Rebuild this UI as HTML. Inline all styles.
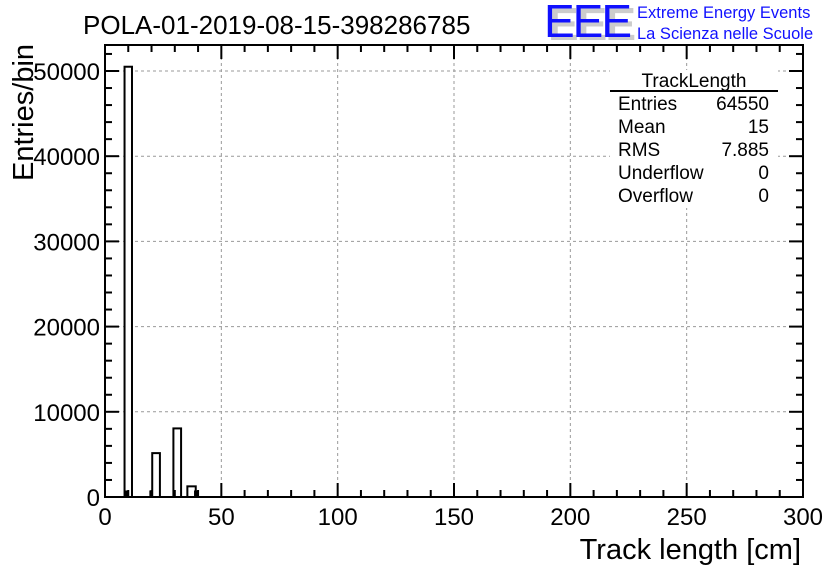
<!DOCTYPE html>
<html><head><meta charset="utf-8"><style>
body{margin:0;background:#fff}
svg{display:block;font-family:"Liberation Sans",Arial,sans-serif}
</style></head><body>
<svg id="chart" width="836" height="572" viewBox="0 0 836 572" xmlns="http://www.w3.org/2000/svg">
<rect width="836" height="572" fill="#fff"/>
<text x="83" y="34" font-size="26">POLA-01-2019-08-15-398286785</text>
<g>
<text x="548" y="40" font-size="46" fill="#ccc" font-weight="bold" letter-spacing="-2">EEE</text>
<text x="544" y="37" font-size="46" fill="#1010ff" letter-spacing="-2">EEE</text>
<text x="637" y="18" font-size="16.5" fill="#1010ff">Extreme Energy Events</text>
<text x="637" y="39" font-size="16.5" fill="#1010ff">La Scienza nelle Scuole</text>
</g>
<g id="grid"></g>
<g id="bars"></g>
<g id="axes"></g>
<g font-size="19">
<rect x="610" y="70" width="168" height="138" fill="#fff"/>
<text x="694" y="87" text-anchor="middle">TrackLength</text>
<line x1="610" y1="91" x2="778" y2="91" stroke="#000" stroke-width="2"/>
<text x="618" y="110">Entries</text><text x="769" y="110" text-anchor="end">64550</text>
<text x="618" y="133">Mean</text><text x="769" y="133" text-anchor="end">15</text>
<text x="618" y="156">RMS</text><text x="769" y="156" text-anchor="end">7.885</text>
<text x="618" y="179">Underflow</text><text x="769" y="179" text-anchor="end">0</text>
<text x="618" y="202">Overflow</text><text x="769" y="202" text-anchor="end">0</text>
</g>
<text x="801" y="559" font-size="29" text-anchor="end">Track length [cm]</text>
<text transform="translate(33,181) rotate(-90)" font-size="29">Entries/bin</text>
</svg>
<script>
const binStart = [8.4, 8.9, 19.5, 20.3, 29.4, 35.4, 38.7];
const binEnd   = [11.6, 9.8, 20.5, 23.6, 32.7, 39.0, 39.7];
const binCount = [50500, 650, 650, 5150, 8050, 1250, 650];
const xTicks = [0, 50, 100, 150, 200, 250, 300];
const yTicks = [0, 10000, 20000, 30000, 40000, 50000];

const L=105, R=803, T=45, B=497, XMAX=300, YMAX=53050;
const sx = v => L + v/XMAX*(R-L);
const sy = v => B - v/YMAX*(B-T);
const NS="http://www.w3.org/2000/svg";
function mk(tag, attrs, parent){const e=document.createElementNS(NS,tag);for(const k in attrs)e.setAttribute(k,attrs[k]);parent.appendChild(e);return e;}
const grid=document.getElementById('grid'), bars=document.getElementById('bars'), axes=document.getElementById('axes');

xTicks.forEach(t=>{ if(t>0&&t<XMAX){const l=mk('line',{x1:sx(t),x2:sx(t),y1:T,y2:B,stroke:'#999','stroke-dasharray':'3,3'},grid);

}});
yTicks.forEach(t=>{ if(t>0){const l=mk('line',{x1:L,x2:R,y1:sy(t),y2:sy(t),stroke:'#999','stroke-dasharray':'3,3'},grid);

}});

binCount.forEach((c,i)=>{
  const x0=sx(binStart[i]), x1=sx(binEnd[i]), y=sy(c);
  const r=mk('rect',{x:x0,y:y,width:x1-x0,height:B-y,fill:(x1-x0<4?'#000':'#fff'),stroke:'#000','stroke-width':2},bars);
  
  
});

mk('rect',{x:L,y:T,width:R-L,height:B-T,fill:'none',stroke:'#000','stroke-width':2},axes);
for(let v=0;v<=XMAX;v+=10){const len=v%50===0?14:7;
  mk('line',{x1:sx(v),x2:sx(v),y1:B,y2:B-len,stroke:'#000','stroke-width':2},axes);
  mk('line',{x1:sx(v),x2:sx(v),y1:T,y2:T+len,stroke:'#000','stroke-width':2},axes);}
for(let v=0;v<=YMAX;v+=2000){const len=v%10000===0?14:7;
  mk('line',{x1:L,x2:L+len,y1:sy(v),y2:sy(v),stroke:'#000','stroke-width':2},axes);
  mk('line',{x1:R,x2:R-len,y1:sy(v),y2:sy(v),stroke:'#000','stroke-width':2},axes);}
xTicks.forEach(t=>{const e=mk('text',{x:sx(t),y:525,'font-size':24,'text-anchor':'middle'},axes);e.textContent=t;

});
yTicks.forEach(t=>{const e=mk('text',{x:100,y:sy(t)+9,'font-size':24,'text-anchor':'end'},axes);e.textContent=t;

});
</script>
</body></html>
